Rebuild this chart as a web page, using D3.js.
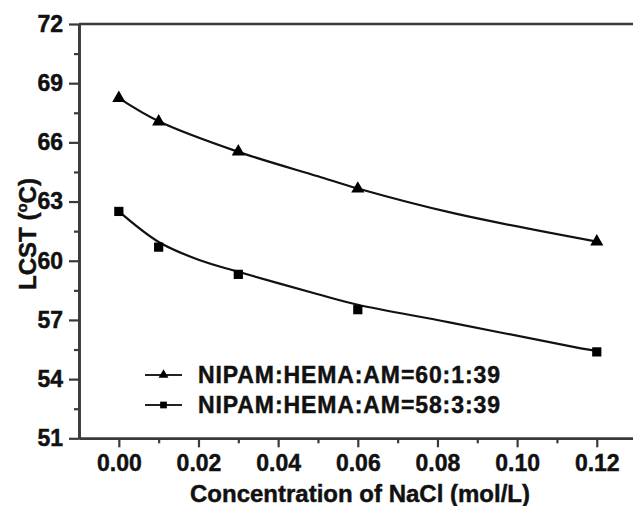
<!DOCTYPE html>
<html>
<head>
<meta charset="utf-8">
<script src="https://cdn.jsdelivr.net/npm/d3@7/dist/d3.min.js"></script>
<style>
  html, body { margin: 0; padding: 0; background: #fff; }
  svg { display: block; }
  text { font-family: "Liberation Sans", Arial, sans-serif; font-weight: bold; fill: #111; stroke: #111; stroke-width: 0.45px; }
</style>
</head>
<body>
<svg id="chart" width="633" height="506"></svg>
<script>
// NaCl concentration (mol/L) of the measured samples
const concentrations = [0.00, 0.01, 0.03, 0.06, 0.12];

// Measured LCST (°C) for each copolymer composition
const lcst60_1_39 = [68.24, 67.05, 65.53, 63.65, 60.97];
const lcst58_3_39 = [62.50, 60.69, 59.31, 57.52, 55.38];

// Fitted trend curves (x in mol/L, y in °C)
const fitX60 = [0.00, 0.01, 0.03, 0.05, 0.06, 0.084, 0.12];
const fitY60 = [68.24, 67.07, 65.52, 64.28, 63.66, 62.41, 60.97];
const fitX58 = [0.00, 0.01, 0.02, 0.03, 0.05, 0.06, 0.083, 0.116, 0.12];
const fitY58 = [62.50, 60.95, 60.05, 59.44, 58.30, 57.77, 56.88, 55.56, 55.43];

const seriesNames = ["NIPAM:HEMA:AM=60:1:39", "NIPAM:HEMA:AM=58:3:39"];

// Axis ticks
const xMajorTicks = [0.00, 0.02, 0.04, 0.06, 0.08, 0.10, 0.12];
const xMinorTicks = [0.01, 0.03, 0.05, 0.07, 0.09, 0.11];
const yMajorTicks = [51, 54, 57, 60, 63, 66, 69, 72];
const yMinorTicks = [52.5, 55.5, 58.5, 61.5, 64.5, 67.5, 70.5];

const xTitle = "Concentration of NaCl (mol/L)";

const svg = d3.select("#chart");
const axisColor = "#3a3a3a";

const x = d3.scaleLinear().domain([-0.01, 0.13]).range([79, 636.6]);
const y = d3.scaleLinear().domain([51, 72]).range([438.3, 24]);

// Bottom axis: major and minor ticks
svg.append("g").attr("transform", `translate(0,${y(51)})`)
  .call(d3.axisBottom(x).tickValues(xMajorTicks).tickSize(9).tickSizeOuter(0)
    .tickPadding(7).tickFormat(d3.format(".2f")));
svg.append("g").attr("transform", `translate(0,${y(51)})`)
  .call(d3.axisBottom(x).tickValues(xMinorTicks).tickSize(5).tickSizeOuter(0).tickFormat(""));

// Left axis: major and minor ticks
svg.append("g").attr("transform", `translate(${x(-0.01)},0)`)
  .call(d3.axisLeft(y).tickValues(yMajorTicks).tickSize(10).tickSizeOuter(0)
    .tickPadding(6).tickFormat(d3.format("d")));
svg.append("g").attr("transform", `translate(${x(-0.01)},0)`)
  .call(d3.axisLeft(y).tickValues(yMinorTicks).tickSize(5).tickSizeOuter(0).tickFormat(""));

// Top frame line
svg.append("line")
  .attr("x1", x(-0.01)).attr("x2", x(0.13))
  .attr("y1", y(72)).attr("y2", y(72))
  .attr("stroke", axisColor).attr("stroke-width", 2.6);

svg.selectAll(".domain").attr("stroke", axisColor).attr("stroke-width", 2.6);
svg.selectAll(".tick line").attr("stroke", axisColor).attr("stroke-width", 2.2);
svg.selectAll(".tick text").style("font-size", "23px").attr("fill", "#111");

// Axis titles
svg.append("text")
  .attr("x", 360).attr("y", 502)
  .attr("text-anchor", "middle")
  .style("font-size", "24px")
  .text(xTitle);

const yTitle = svg.append("text")
  .attr("transform", `translate(36,${234}) rotate(-90)`)
  .attr("text-anchor", "middle")
  .style("font-size", "24px");
yTitle.append("tspan").text("LCST (");
yTitle.append("tspan").attr("dy", -9).style("font-size", "15px").text("o");
yTitle.append("tspan").attr("dy", 9).text("C)");

// Fitted curves
const line = d3.line().x(d => x(d[0])).y(d => y(d[1])).curve(d3.curveCatmullRom.alpha(0.5));
svg.append("path").datum(d3.zip(fitX60, fitY60))
  .attr("d", line).attr("fill", "none").attr("stroke", "#111").attr("stroke-width", 2.2);
svg.append("path").datum(d3.zip(fitX58, fitY58))
  .attr("d", line).attr("fill", "none").attr("stroke", "#111").attr("stroke-width", 2.2);

// Markers
const tri = d3.symbol().type(d3.symbolTriangle).size(75);
const sq = d3.symbol().type(d3.symbolSquare).size(85);

svg.append("g").selectAll("path").data(d3.zip(concentrations, lcst60_1_39)).join("path")
  .attr("transform", d => `translate(${x(d[0])},${y(d[1])})`)
  .attr("d", tri).attr("fill", "#000");
svg.append("g").selectAll("path").data(d3.zip(concentrations, lcst58_3_39)).join("path")
  .attr("transform", d => `translate(${x(d[0])},${y(d[1])})`)
  .attr("d", sq).attr("fill", "#000");

// Legend
const legendRows = [
  { name: seriesNames[0], symbol: d3.symbol().type(d3.symbolTriangle).size(42), cy: 375 },
  { name: seriesNames[1], symbol: d3.symbol().type(d3.symbolSquare).size(45), cy: 405 }
];
const legend = svg.append("g");
legendRows.forEach(r => {
  legend.append("line").attr("x1", 145).attr("x2", 182).attr("y1", r.cy).attr("y2", r.cy)
    .attr("stroke", "#222").attr("stroke-width", 2);
  legend.append("path").attr("d", r.symbol).attr("transform", `translate(163.5,${r.cy})`).attr("fill", "#000");
  legend.append("text").attr("x", 198).attr("y", r.cy).attr("dy", "0.36em")
    .style("font-size", "23px").style("letter-spacing", "0.9px").text(r.name);
});
</script>
</body>
</html>
